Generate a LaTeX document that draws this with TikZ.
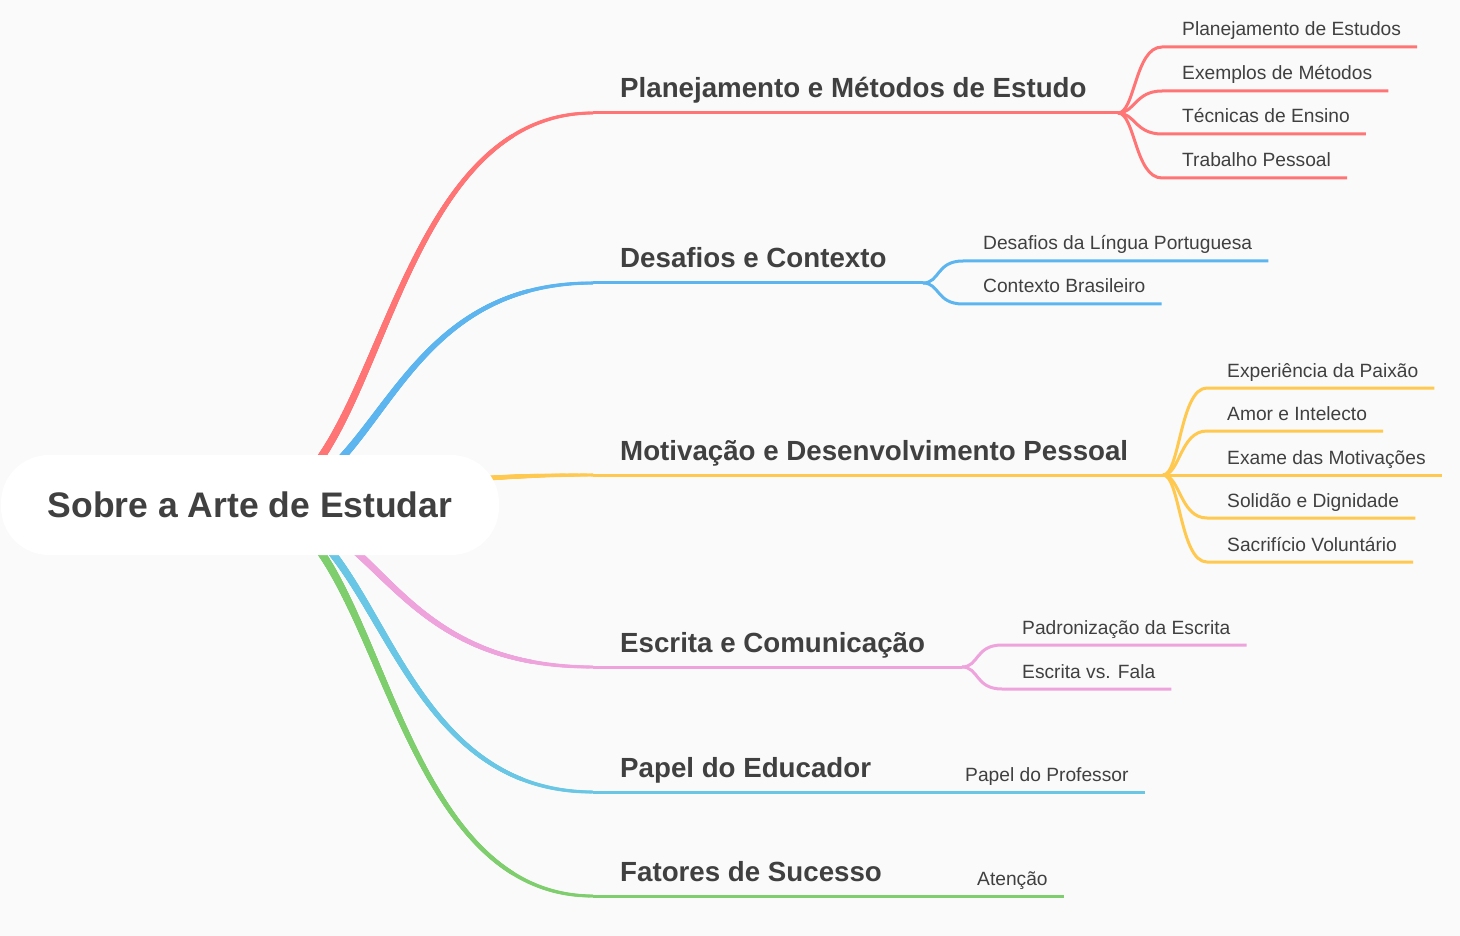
\documentclass[tikz,border=0pt]{standalone}
\usepackage{fontspec}
\setmainfont{Liberation Sans}
\usetikzlibrary{calc,decorations.markings}
\definecolor{bgcol}{HTML}{FAFAFA}
\definecolor{txt}{HTML}{404040}
\definecolor{brred}{HTML}{FF7575}
\definecolor{brblue}{HTML}{5DB5F0}
\definecolor{bryellow}{HTML}{FFC94F}
\definecolor{brpink}{HTML}{EFA3DC}
\definecolor{brcyan}{HTML}{69C7E5}
\definecolor{brgreen}{HTML}{7ECE6E}
\pgfdeclarelayer{background}
\pgfsetlayers{background,main}
\tikzset{
  taper/.style={decoration={markings,mark=between positions 0 and 1 step 0.5pt with {\pgfmathsetmacro\rr{4.4-2.9*\pgfkeysvalueof{/pgf/decoration/mark info/distance from start}/\pgfdecoratedpathlength}\fill[#1] (0,0) circle[radius=\rr pt];}},decorate},
  rootbox/.style={fill=white,rounded corners=48pt,minimum width=498pt,minimum height=100pt,text=txt,font=\fontsize{35.5}{40}\selectfont\bfseries},
  topic/.style={anchor=base west,inner sep=0,text=txt,font=\fontsize{27.7}{30}\selectfont\bfseries},
  leaf/.style={anchor=base west,inner sep=0,text=txt,font=\fontsize{19.2}{22}\selectfont}
}
\begin{document}
\begin{tikzpicture}[x=1pt,y=-1pt]
  \useasboundingbox (0,0) rectangle (1460,936);
  \begin{pgfonlayer}{background}
    \fill[bgcol] (0,0) rectangle (1460,936);
  \end{pgfonlayer}

  \node[rootbox] (root) at (250,505) {Sobre a Arte de Estudar};

  % main topics
  \node[topic] (plan) at (620,98) {Planejamento e Métodos de Estudo};
  \node[topic] (desaf) at (620,268) {Desafios e Contexto};
  \node[topic] (motiv) at (620,460) {Motivação e Desenvolvimento Pessoal};
  \node[topic] (escr) at (620,652) {Escrita e Comunicação};
  \node[topic] (papel) at (620,777) {Papel do Educador};
  \node[topic] (fator) at (620,881) {Fatores de Sucesso};

  \foreach \m/\clr/\fx in {plan/brred/1118, desaf/brblue/923, motiv/bryellow/1163, escr/brpink/962, papel/brcyan/901, fator/brgreen/913}{
    \coordinate (\m-in) at ($(\m.base west)+(-27,15)$);
    \coordinate (\m-fork) at ($(\m-in)+(\fx-593,0)$);
    \begin{pgfonlayer}{background}
      \path[taper=\clr] (root.center) .. controls +(132,0) and +(-211,0) .. (\m-in);
      \draw[\clr,line width=3pt] (\m-in) -- (\m-fork);
    \end{pgfonlayer}
  }

  % subtopics
  \foreach \nm/\fk/\xx/\yy/\clr/\lab in {
      pl1/plan/1182/47/brred/Planejamento de Estudos,
      pl2/plan/1182/91/brred/Exemplos de Métodos,
      pl3/plan/1182/134/brred/Técnicas de Ensino,
      pl4/plan/1182/178/brred/Trabalho Pessoal,
      de1/desaf/983/261/brblue/Desafios da Língua Portuguesa,
      de2/desaf/983/304/brblue/Contexto Brasileiro,
      mo1/motiv/1227/388/bryellow/Experiência da Paixão,
      mo2/motiv/1227/431/bryellow/Amor e Intelecto,
      mo3/motiv/1227/475/bryellow/Exame das Motivações,
      mo4/motiv/1227/518/bryellow/Solidão e Dignidade,
      mo5/motiv/1227/562/bryellow/Sacrifício Voluntário,
      es1/escr/1022/645/brpink/Padronização da Escrita,
      es2/escr/1022/689/brpink/Escrita vs. Fala,
      pa1/papel/965/792/brcyan/Papel do Professor,
      fa1/fator/977/896/brgreen/Atenção}{
    \node[leaf] (\nm) at (\xx,\yy-11) {\lab};
    \coordinate (\nm-in) at ($(\nm.base west)+(-20,11)$);
    \coordinate (\nm-out) at ($(\nm.base east)+(16,11)$);
    \begin{pgfonlayer}{background}
      \draw[\clr,line width=3pt] (\fk-fork) .. controls +(17,0) and +(-27,0) .. (\nm-in) -- (\nm-out);
    \end{pgfonlayer}
  }
\end{tikzpicture}
\end{document}
